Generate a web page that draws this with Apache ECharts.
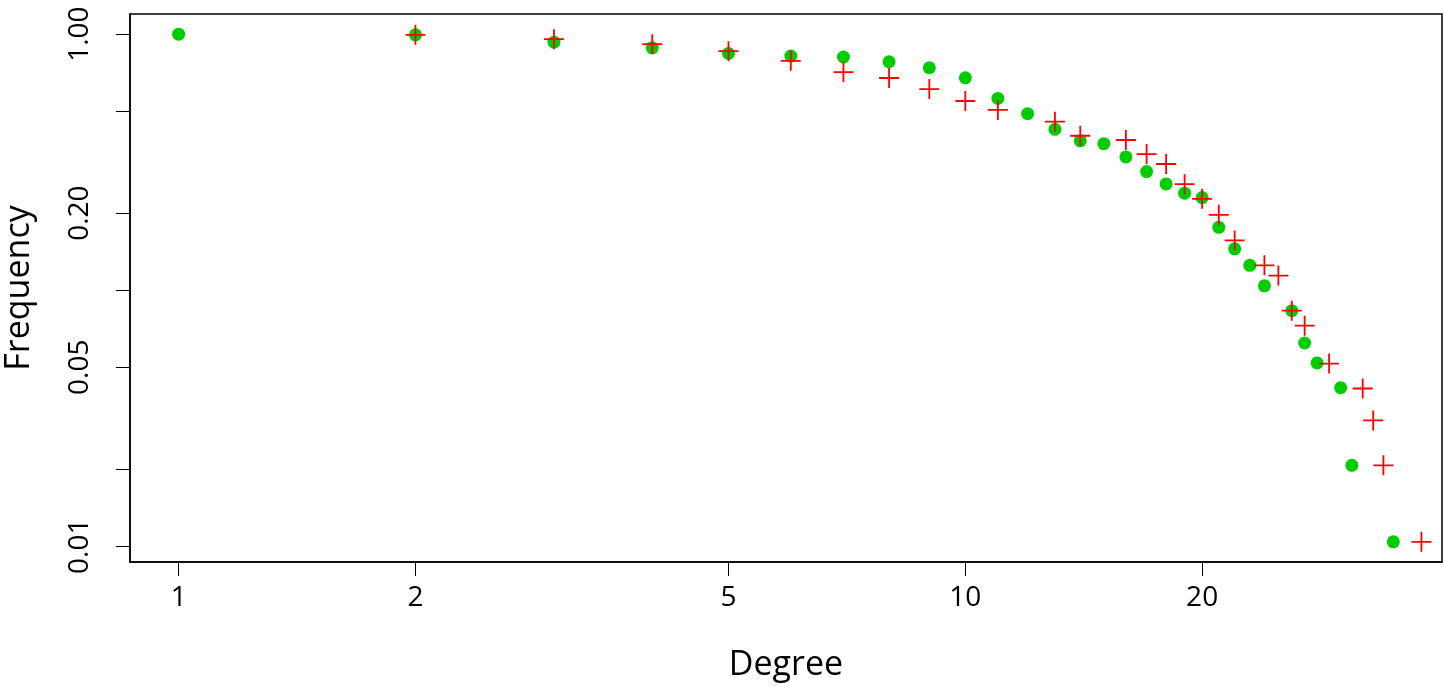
<!DOCTYPE html>
<html>
<head>
<meta charset="utf-8">
<script src="https://cdn.jsdelivr.net/npm/echarts@6/dist/echarts.min.js"></script>
<style>
html,body{margin:0;padding:0;background:#fff;}
#chart{width:1444px;height:687px;}
</style>
</head>
<body>
<div id="chart"></div>
<script>
// Green dots series
const greenDegree = [1,2,3,4,5,6,7,8,9,10,11,12,13,14,15,16,17,18,19,20,21,22,23,24,26,27,28,30,31,35];
const greenFreq   = [1.0,0.994,0.930,0.884,0.841,0.821,0.814,0.780,0.739,0.675,0.561,0.489,0.425,0.383,0.3735,0.3315,0.2905,0.260,0.2393,0.230,0.176,0.145,0.125,0.104,0.0832,0.0622,0.052,0.0416,0.0207,0.0104];
// Red crosses series
const redDegree = [2,3,4,5,6,7,8,9,10,11,13,14,16,17,18,19,20,21,22,24,25,26,27,29,32,33,34,38];
const redFreq   = [0.994,0.956,0.914,0.858,0.787,0.711,0.674,0.610,0.548,0.506,0.455,0.401,0.386,0.340,0.311,0.2595,0.2274,0.197,0.1564,0.125,0.114,0.0832,0.0727,0.0517,0.0413,0.031,0.0207,0.0104];
// Axis ticks
const xTicks = [1,2,5,10,20];
const xTickLabels = ["1","2","5","10","20"];
const yTicks = [1,0.5,0.2,0.1,0.05,0.02,0.01];
const yLabelValues = [1,0.2,0.05,0.01];
const yTickLabels = ["1.00","0.20","0.05","0.01"];
const xRange = [0.8673, 40.36];
const yRange = [0.008676, 1.1986];

const L = Math.log10;
function labelFor(v, vals, texts){
  for (let i=0;i<vals.length;i++){ if (Math.abs(L(vals[i])-v) < 1e-6) return texts[i]; }
  return '';
}
const FONT = "'Open Sans', 'DejaVu Sans', sans-serif";
const chart = echarts.init(document.getElementById('chart'), null, {renderer:'canvas'});
const plusPath = 'path://M9.1,0H10.9V9.1H20V10.9H10.9V20H9.1V10.9H0V9.1H9.1Z';
chart.setOption({
  animation:false,
  backgroundColor:'#fff',
  grid:{left:130,right:2,top:14,bottom:125,show:true,borderColor:'#000',borderWidth:1.5,backgroundColor:'transparent',
        containLabel:false, outerBoundsMode:'none'},
  xAxis:{
    type:'value', min:L(xRange[0]), max:L(xRange[1]),
    name:'Degree', nameLocation:'middle', nameGap:86,
    nameTextStyle:{fontFamily:FONT,fontSize:34,color:'#000'},
    axisLine:{show:true,onZero:false,lineStyle:{color:'#000',width:1.5}},
    axisTick:{show:true,length:14,inside:false,customValues:xTicks.map(L),lineStyle:{color:'#000',width:1}},
    axisLabel:{show:true,margin:22,customValues:xTicks.map(L),fontFamily:FONT,fontSize:28,color:'#000',
      formatter:v=>labelFor(v,xTicks,xTickLabels)},
    splitLine:{show:false}
  },
  yAxis:{
    type:'value', min:L(yRange[0]), max:L(yRange[1]),
    name:'Frequency', nameLocation:'middle', nameGap:94,
    nameTextStyle:{fontFamily:FONT,fontSize:34,color:'#000'},
    axisLine:{show:true,onZero:false,lineStyle:{color:'#000',width:1.5}},
    axisTick:{show:true,length:14,inside:false,customValues:yTicks.map(L),lineStyle:{color:'#000',width:1}},
    axisLabel:{show:true,margin:36,rotate:90,customValues:yLabelValues.map(L),fontFamily:FONT,fontSize:28,color:'#000',
      formatter:v=>labelFor(v,yLabelValues,yTickLabels)},
    splitLine:{show:false}
  },
  series:[
    {type:'scatter', name:'green', symbol:'circle', symbolSize:13,
     itemStyle:{color:'#00CD00',opacity:1},
     data:greenDegree.map((d,i)=>[L(d),L(greenFreq[i])])},
    {type:'scatter', name:'red', symbol:plusPath, symbolSize:20,
     itemStyle:{color:'#FF0000',opacity:1},
     data:redDegree.map((d,i)=>[L(d),L(redFreq[i])])}
  ]
});
</script>
</body>
</html>
